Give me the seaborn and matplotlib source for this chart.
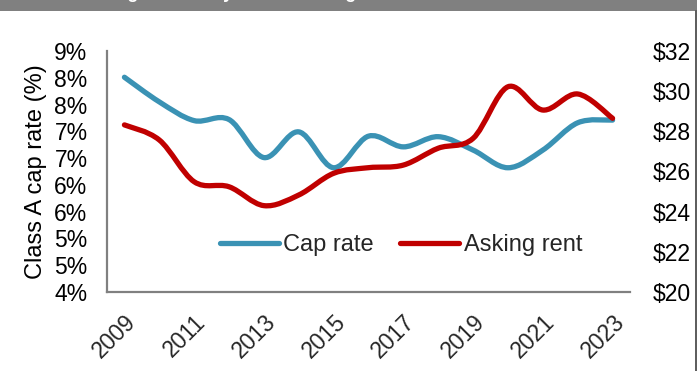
import numpy as np
import pandas as pd
import matplotlib
matplotlib.use("Agg")
import matplotlib.pyplot as plt
import seaborn as sns
from matplotlib.path import Path
from matplotlib.patches import PathPatch, Rectangle
from matplotlib.lines import Line2D
import matplotlib.transforms as mtransforms

# ---- data ----
years = [2009, 2010, 2011, 2012, 2013, 2014, 2015, 2016, 2017, 2018, 2019, 2020, 2021, 2022, 2023]
cap_rate = [8.01, 7.55, 7.20, 7.22, 6.51, 6.99, 6.32, 6.91, 6.71, 6.90, 6.65, 6.32, 6.65, 7.16, 7.21]
asking_rent = [28.32, 27.57, 25.49, 25.24, 24.30, 24.83, 25.91, 26.19, 26.32, 27.16, 27.65, 30.22, 29.06, 29.86, 28.65]
xtick_years = [2009, 2011, 2013, 2015, 2017, 2019, 2021, 2023]
left_tick_values = [4.0, 4.5, 5.0, 5.5, 6.0, 6.5, 7.0, 7.5, 8.0, 8.5]
left_tick_labels = ["4%", "5%", "5%", "6%", "6%", "7%", "7%", "8%", "8%", "9%"]
right_tick_values = [20, 22, 24, 26, 28, 30, 32]
right_tick_labels = ["$20", "$22", "$24", "$26", "$28", "$30", "$32"]
series_names = ["Cap rate", "Asking rent"]
ylabel_left = "Class A cap rate (%)"
title_text = "Average Class A yield vs. asking rent"

BLUE = "#3A92B4"
RED = "#C00000"
GRAY = "#808080"
FS = 16.5

sns.set_theme(style="white")
plt.rcParams["font.family"] = ["Liberation Sans", "DejaVu Sans"]

df = pd.DataFrame({"year": years, "cap": cap_rate, "rent": asking_rent})


def smooth_path(xs, ys):
    xs = np.asarray(xs, float)
    ys = np.asarray(ys, float)
    n = len(xs)
    verts = [(xs[0], ys[0])]
    codes = [Path.MOVETO]
    for i in range(n - 1):
        i0 = max(i - 1, 0)
        i3 = min(i + 2, n - 1)
        c1 = (xs[i] + (xs[i + 1] - xs[i0]) / 6.0, ys[i] + (ys[i + 1] - ys[i0]) / 6.0)
        c2 = (xs[i + 1] - (xs[i3] - xs[i]) / 6.0, ys[i + 1] - (ys[i3] - ys[i]) / 6.0)
        verts += [c1, c2, (xs[i + 1], ys[i + 1])]
        codes += [Path.CURVE4] * 3
    return Path(verts, codes)


fig = plt.figure(figsize=(6.97, 3.71), dpi=100)
ax = fig.add_axes([107 / 697, 1 - 292 / 371, (630 - 107) / 697, (292 - 51) / 371])
ax2 = ax.twinx()

ax.set_xlim(2008.5, 2023.5)
ax.set_ylim(4.0, 8.5)
ax2.set_ylim(20, 32)

ax.add_patch(PathPatch(smooth_path(df["year"], df["cap"]), fill=False, edgecolor=BLUE,
                       lw=3.8, capstyle="round", joinstyle="round", zorder=3))
ax2.add_patch(PathPatch(smooth_path(df["year"], df["rent"]), fill=False, edgecolor=RED,
                        lw=3.8, capstyle="round", joinstyle="round", zorder=3))

ax.set_yticks(left_tick_values)
ax.set_yticklabels(left_tick_labels, fontsize=FS, color="black")
ax2.set_yticks(right_tick_values)
ax2.set_yticklabels(right_tick_labels, fontsize=FS, color="black")
ax.set_xticks(xtick_years)
ax.set_xticklabels([str(y) for y in xtick_years], fontsize=FS, rotation=45,
                   ha="right", va="top", rotation_mode="anchor")
for lbl in ax.get_xticklabels():
    lbl.set_transform(lbl.get_transform() + mtransforms.ScaledTranslation(1 / 100, 0, fig.dpi_scale_trans))

ax.tick_params(axis="y", length=0, pad=14)
ax2.tick_params(axis="y", length=0, pad=16)
ax.tick_params(axis="x", length=0, pad=13)

ax.set_ylabel(ylabel_left, fontsize=17, color="black", labelpad=5)

for a in (ax, ax2):
    for s in a.spines.values():
        s.set_visible(False)
ax.spines["left"].set_visible(True)
ax.spines["bottom"].set_visible(True)
ax.spines["left"].set_color(GRAY)
ax.spines["bottom"].set_color(GRAY)
ax.spines["left"].set_linewidth(1.6)
ax.spines["bottom"].set_linewidth(1.6)
ax.grid(False)
ax2.grid(False)

handles = [Line2D([0], [0], color=BLUE, lw=3.8, solid_capstyle="round"),
           Line2D([0], [0], color=RED, lw=3.8, solid_capstyle="round")]
fig.legend(handles, series_names, loc="center", bbox_to_anchor=(401 / 697, 1 - 245 / 371),
           ncol=2, frameon=False, fontsize=17, handlelength=2.5, handletextpad=0.2,
           columnspacing=1.1, borderpad=0)

# header bar
fig.patches.append(Rectangle((0, 1 - 11 / 371), 1, 11 / 371, transform=fig.transFigure,
                             facecolor=GRAY, edgecolor="none", zorder=0))
fig.text(78 / 697, 1 + 2 / 371, title_text, color="white", fontsize=13, fontweight="bold",
         ha="left", va="baseline")
fig.add_artist(Line2D([695.5 / 697, 695.5 / 697], [0, 1 - 11 / 371], transform=fig.transFigure,
                      color="#404040", lw=1.2))

fig.savefig("out.png", dpi=100)
